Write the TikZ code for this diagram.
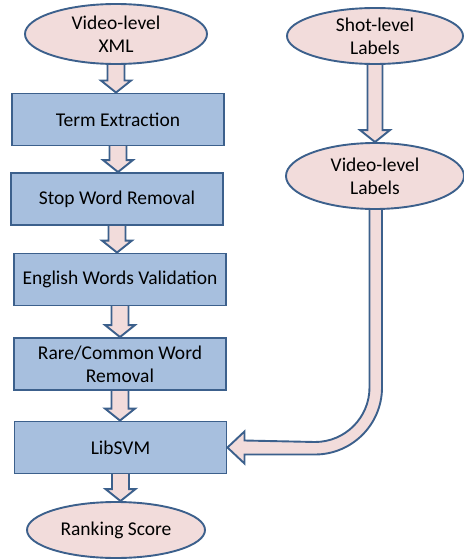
\documentclass[tikz,border=0pt]{standalone}
\usepackage{fontspec}
\setmainfont{Carlito}
\usetikzlibrary{shapes.geometric,backgrounds,calc}

\definecolor{boxblue}{RGB}{167,191,222}
\definecolor{edgeblue}{RGB}{60,96,140}
\definecolor{pinkfill}{RGB}{242,220,219}

\tikzset{
    stage/.style={draw=edgeblue, fill=boxblue, line width=1.9pt,
        minimum width=212pt, minimum height=52pt, inner sep=0pt,
        align=center, font=\fontsize{19.5}{23}\selectfont},
    source/.style={ellipse, draw=edgeblue, fill=pinkfill, line width=1.9pt,
        inner sep=0pt, align=center, font=\fontsize{19.5}{23}\selectfont},
    fatarrow/.style={draw=edgeblue, fill=pinkfill, line width=1.9pt, line join=miter}
}

% fat arrow pointing down from one node to the next
\newcommand\downfat[2]{%
    \draw[fatarrow] let \p1=(#1.south), \p2=(#2.north) in
        (\x1-8.5pt,\y1+4pt) -- (\x1-8.5pt,\y2+12pt) -- (\x1-15pt,\y2+12pt)
        -- (\x1,\y2) -- (\x1+15pt,\y2+12pt) -- (\x1+8.5pt,\y2+12pt)
        -- (\x1+8.5pt,\y1+4pt);}

\begin{document}
\begin{tikzpicture}[x=1pt,y=-1pt]
    \useasboundingbox (0,0) rectangle (463,559);

    \node[source, minimum width=182pt, minimum height=60pt] (xml) at (116,34) {Video-level\\XML};
    \node[stage] (term) at (118,119.5) {Term Extraction};
    \node[stage] (stop) at (117,199) {Stop Word Removal};
    \node[stage] (english) at (120,279.5) {English Words Validation};
    \node[stage] (rare) at (120,364) {Rare/Common Word\\Removal};
    \node[stage] (libsvm) at (120.5,447.5) {LibSVM};
    \node[source, minimum width=178pt, minimum height=56pt] (rank) at (116,530) {Ranking Score};

    \node[source, minimum width=176pt, minimum height=56pt] (shot) at (375,36) {Shot-level\\Labels};
    \node[source, minimum width=178pt, minimum height=66pt] (vlabels) at (375,176) {Video-level\\Labels};

    \begin{pgfonlayer}{background}
    \downfat{xml}{term}
    \downfat{term}{stop}
    \downfat{stop}{english}
    \downfat{english}{rare}
    \downfat{rare}{libsvm}
    \downfat{libsvm}{rank}
    \draw[fatarrow] let \p1=(shot.south), \p2=(vlabels.north) in
        (\x1-7.5pt,\y1+4pt) -- (\x1-7.5pt,\y2+12pt) -- (\x1-15pt,\y2+12pt)
        -- (\x1,\y2) -- (\x1+15pt,\y2+12pt) -- (\x1+7.5pt,\y2+12pt)
        -- (\x1+7.5pt,\y1+4pt);
    % bent arrow from the video labels into LibSVM
    \draw[fatarrow] let \p1=(vlabels.south), \p2=(libsvm.east) in
        (\x1-5.5pt,\y1+4pt) -- (\x1-5.5pt,\y2+60pt)
        arc[start angle=0, end angle=-90, radius=54.5pt]
        -- (\x2+17pt,\y2+7pt) -- (\x2+17pt,\y2+16pt) -- (\x2,\y2)
        -- (\x2+17pt,\y2-16pt) -- (\x2+17pt,\y2-7pt) -- (\x1-60pt,\y2-7pt)
        arc[start angle=-90, end angle=0, radius=67pt]
        -- (\x1+7pt,\y1+4pt);
    \end{pgfonlayer}
\end{tikzpicture}
\end{document}
